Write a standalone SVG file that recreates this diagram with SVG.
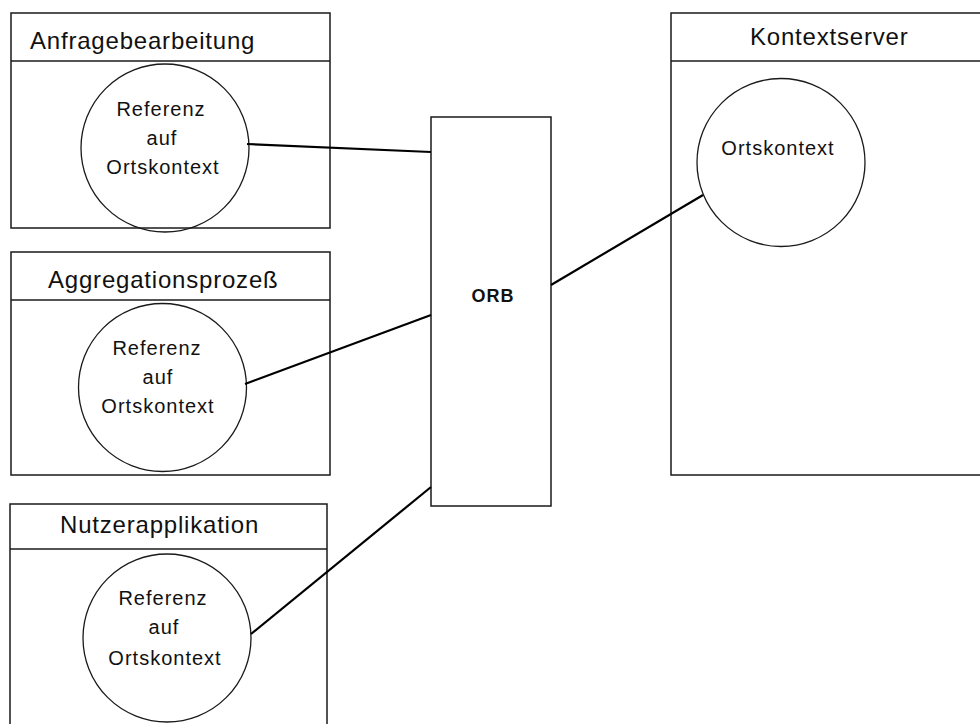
<svg xmlns="http://www.w3.org/2000/svg" width="980" height="724" viewBox="0 0 980 724">
<style>
.box{fill:none;stroke:#1a1a1a;stroke-width:1.5}
.circ{fill:none;stroke:#1a1a1a;stroke-width:1.3}
.title{font-family:"Liberation Sans",Arial,sans-serif;font-size:24px;letter-spacing:0.8px;fill:#111}
.lbl{font-family:"Liberation Sans",Arial,sans-serif;font-size:20px;letter-spacing:1px;fill:#111;text-anchor:middle}
.orb{font-family:"Liberation Sans",Arial,sans-serif;font-size:18px;font-weight:bold;letter-spacing:1px;fill:#111;text-anchor:middle}
.conn{fill:none;stroke:#000;stroke-width:2.2}
</style>
<rect width="980" height="724" fill="#fff"/>
<g id="anfragebearbeitung">
<rect class="box" x="11" y="13" width="319" height="215"/>
<line class="box" x1="11" y1="61" x2="330" y2="61"/>
<text class="title" x="30" y="49">Anfragebearbeitung</text>
<circle class="circ" cx="165" cy="148" r="84"/>
<text class="lbl" x="161" y="116">Referenz</text>
<text class="lbl" x="162" y="145">auf</text>
<text class="lbl" x="163" y="174">Ortskontext</text>
</g>
<g id="aggregationsprozess">
<rect class="box" x="11" y="252" width="319" height="223"/>
<line class="box" x1="11" y1="300" x2="330" y2="300"/>
<text class="title" x="48" y="288">Aggregationsprozeß</text>
<circle class="circ" cx="162.5" cy="387.5" r="84"/>
<text class="lbl" x="157" y="355">Referenz</text>
<text class="lbl" x="158" y="384">auf</text>
<text class="lbl" x="158" y="413">Ortskontext</text>
</g>
<g id="nutzerapplikation">
<rect class="box" x="10" y="504" width="317" height="230"/>
<line class="box" x1="10" y1="549" x2="327" y2="549"/>
<text class="title" x="60" y="533">Nutzerapplikation</text>
<circle class="circ" cx="167" cy="638" r="84"/>
<text class="lbl" x="163" y="605">Referenz</text>
<text class="lbl" x="164" y="634">auf</text>
<text class="lbl" x="165" y="665">Ortskontext</text>
</g>
<g id="orb">
<rect class="box" x="431" y="117" width="120" height="389"/>
<text class="orb" x="493" y="302">ORB</text>
</g>
<g id="kontextserver">
<rect class="box" x="671" y="13" width="320" height="462"/>
<line class="box" x1="671" y1="61" x2="991" y2="61"/>
<text class="title" x="750" y="45">Kontextserver</text>
<circle class="circ" cx="781" cy="162.5" r="84"/>
<text class="lbl" x="778" y="155">Ortskontext</text>
</g>
<g id="connectors">
<line class="conn" x1="247" y1="144" x2="431" y2="152"/>
<line class="conn" x1="245" y1="384" x2="431" y2="315"/>
<line class="conn" x1="251" y1="634" x2="431" y2="487"/>
<line class="conn" x1="551" y1="285" x2="703" y2="195"/>
</g>
</svg>
